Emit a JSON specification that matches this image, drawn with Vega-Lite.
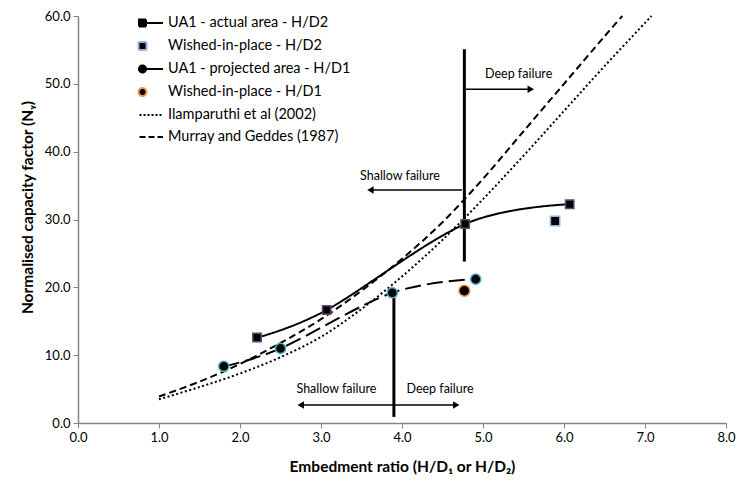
{
  "$schema": "https://vega.github.io/schema/vega-lite/v6.json",
  "width": 648,
  "height": 407,
  "autosize": "none",
  "padding": {"left": 78, "top": 16, "right": 14, "bottom": 62},
  "background": "white",
  "config": {
    "view": {"stroke": null},
    "font": "Lato",
    "axis": {
      "domainColor": "#868686", "domainWidth": 1.5, "tickColor": "#868686", "tickWidth": 1, "tickSize": 5,
      "labelFont": "Lato", "labelFontSize": 13, "labelColor": "#000",
      "titleFont": "Lato", "titleFontSize": 15.5, "titleFontWeight": "bold", "titleColor": "#000",
      "grid": false, "labelFlush": false, "labelOverlap": false
    }
  },
  "datasets": {
    "series": [
      {"series": "UA1 - actual area - H/D2", "x": 2.21, "y": 12.6},
      {"series": "UA1 - actual area - H/D2", "x": 3.07, "y": 16.66},
      {"series": "UA1 - actual area - H/D2", "x": 4.78, "y": 29.34},
      {"series": "UA1 - actual area - H/D2", "x": 6.07, "y": 32.24},
      {"series": "Wished-in-place - H/D2", "x": 5.89, "y": 29.78},
      {"series": "UA1 - projected area - H/D1", "x": 1.8, "y": 8.36},
      {"series": "UA1 - projected area - H/D1", "x": 2.5, "y": 11.0},
      {"series": "UA1 - projected area - H/D1", "x": 3.88, "y": 19.2},
      {"series": "UA1 - projected area - H/D1", "x": 4.91, "y": 21.2},
      {"series": "Wished-in-place - H/D1", "x": 4.77, "y": 19.5},
      {"series": "Ilamparuthi et al (2002)", "x": 1.0, "y": 3.5},
      {"series": "Ilamparuthi et al (2002)", "x": 1.5, "y": 5.3},
      {"series": "Ilamparuthi et al (2002)", "x": 2.0, "y": 7.3},
      {"series": "Ilamparuthi et al (2002)", "x": 2.5, "y": 9.7},
      {"series": "Ilamparuthi et al (2002)", "x": 3.0, "y": 12.7},
      {"series": "Ilamparuthi et al (2002)", "x": 3.5, "y": 16.8},
      {"series": "Ilamparuthi et al (2002)", "x": 4.0, "y": 21.6},
      {"series": "Ilamparuthi et al (2002)", "x": 4.5, "y": 27.0},
      {"series": "Ilamparuthi et al (2002)", "x": 5.0, "y": 33.0},
      {"series": "Ilamparuthi et al (2002)", "x": 5.5, "y": 39.4},
      {"series": "Ilamparuthi et al (2002)", "x": 6.0, "y": 46.0},
      {"series": "Ilamparuthi et al (2002)", "x": 6.5, "y": 52.6},
      {"series": "Ilamparuthi et al (2002)", "x": 7.08, "y": 60.0},
      {"series": "Murray and Geddes (1987)", "x": 1.0, "y": 3.9},
      {"series": "Murray and Geddes (1987)", "x": 1.5, "y": 6.1},
      {"series": "Murray and Geddes (1987)", "x": 2.0, "y": 8.7},
      {"series": "Murray and Geddes (1987)", "x": 2.5, "y": 11.8},
      {"series": "Murray and Geddes (1987)", "x": 3.0, "y": 15.3},
      {"series": "Murray and Geddes (1987)", "x": 3.5, "y": 19.5},
      {"series": "Murray and Geddes (1987)", "x": 4.0, "y": 24.2},
      {"series": "Murray and Geddes (1987)", "x": 4.5, "y": 29.6},
      {"series": "Murray and Geddes (1987)", "x": 5.0, "y": 36.0},
      {"series": "Murray and Geddes (1987)", "x": 5.5, "y": 43.0},
      {"series": "Murray and Geddes (1987)", "x": 6.0, "y": 50.0},
      {"series": "Murray and Geddes (1987)", "x": 6.5, "y": 57.0},
      {"series": "Murray and Geddes (1987)", "x": 6.72, "y": 60.0}
    ],
    "vlines": [
      {"x": 4.77, "y": 55.1, "y2": 23.8},
      {"x": 3.9, "y": 19.2, "y2": 0.9}
    ],
    "arrows": [
      {"x": 4.79, "x2": 5.6, "y": 49.2},
      {"x": 4.74, "x2": 3.6, "y": 34.35},
      {"x": 2.74, "x2": 4.68, "y": 2.65}
    ],
    "heads": [
      {"x": 5.59, "y": 49.2, "dir": "right"},
      {"x": 3.61, "y": 34.35, "dir": "left"},
      {"x": 2.75, "y": 2.65, "dir": "left"},
      {"x": 4.67, "y": 2.65, "dir": "right"}
    ],
    "labels": [
      {"x": 5.44, "y": 51.45, "text": "Deep failure"},
      {"x": 3.975, "y": 36.4, "text": "Shallow failure"},
      {"x": 3.19, "y": 4.97, "text": "Shallow failure"},
      {"x": 4.47, "y": 4.97, "text": "Deep failure"}
    ]
  },
  "encoding": {
    "x": {
      "field": "x", "type": "quantitative",
      "scale": {"domain": [0, 8], "nice": false, "zero": false},
      "axis": {"values": [0, 1, 2, 3, 4, 5, 6, 7, 8], "format": ".1f", "labelPadding": 3, "titlePadding": 15, "title": "Embedment ratio (H/D₁ or H/D₂)"}
    },
    "y": {
      "field": "y", "type": "quantitative",
      "scale": {"domain": [0, 60], "nice": false, "zero": false},
      "axis": {"values": [0, 10, 20, 30, 40, 50, 60], "format": ".1f", "labelPadding": 3, "titlePadding": 9, "titleY": 191, "title": "Normalised capacity factor (Nᵧ)"}
    }
  },
  "resolve": {"scale": {"shape": "independent", "size": "independent", "stroke": "independent", "strokeDash": "independent"}},
  "layer": [
    {
      "data": {"name": "vlines"},
      "mark": {"type": "rule", "strokeWidth": 3, "color": "black"},
      "encoding": {"y2": {"field": "y2"}}
    },
    {
      "data": {"name": "arrows"},
      "mark": {"type": "rule", "strokeWidth": 1.3, "color": "black"},
      "encoding": {"x2": {"field": "x2"}}
    },
    {
      "data": {"name": "heads"},
      "mark": {"type": "point", "filled": true, "color": "black", "size": 55, "opacity": 1},
      "encoding": {
        "shape": {"field": "dir", "type": "nominal", "scale": {"domain": ["left", "right"], "range": ["triangle-left", "triangle-right"]}, "legend": null}
      }
    },
    {
      "data": {"name": "labels"},
      "mark": {"type": "text", "font": "Lato", "fontSize": 12.5, "color": "black", "align": "center", "baseline": "middle"},
      "encoding": {"text": {"field": "text"}}
    },
    {
      "data": {"name": "series"},
      "transform": [{"filter": {"field": "series", "oneOf": ["UA1 - actual area - H/D2", "UA1 - projected area - H/D1", "Ilamparuthi et al (2002)", "Murray and Geddes (1987)"]}}],
      "mark": {"type": "line", "color": "black", "strokeWidth": 2, "interpolate": "cardinal"},
      "encoding": {
        "strokeDash": {
          "field": "series", "type": "nominal",
          "scale": {
            "domain": ["UA1 - actual area - H/D2", "UA1 - projected area - H/D1", "Ilamparuthi et al (2002)", "Murray and Geddes (1987)"],
            "range": [[1, 0], [16, 6], [2, 2.5], [7, 4]]
          },
          "legend": null
        }
      }
    },
    {
      "data": {"name": "series"},
      "transform": [{"filter": {"field": "series", "oneOf": ["UA1 - actual area - H/D2", "Wished-in-place - H/D2", "UA1 - projected area - H/D1", "Wished-in-place - H/D1"]}}],
      "mark": {"type": "point", "filled": true, "fill": "black", "strokeWidth": 1.5, "opacity": 1},
      "encoding": {
        "shape": {"field": "series", "type": "nominal", "scale": {"domain": ["UA1 - actual area - H/D2", "Wished-in-place - H/D2", "UA1 - projected area - H/D1", "Wished-in-place - H/D1"], "range": ["square", "square", "circle", "circle"]}, "legend": null},
        "stroke": {"field": "series", "type": "nominal", "scale": {"domain": ["UA1 - actual area - H/D2", "Wished-in-place - H/D2", "UA1 - projected area - H/D1", "Wished-in-place - H/D1"], "range": ["#604a7b", "#95b3d7", "#4bacc6", "#f79646"]}, "legend": null},
        "size": {"field": "series", "type": "nominal", "scale": {"domain": ["UA1 - actual area - H/D2", "Wished-in-place - H/D2", "UA1 - projected area - H/D1", "Wished-in-place - H/D1"], "range": [70, 120, 40, 90]}, "legend": null}
      }
    },
    {
      "data": {"name": "series"},
      "transform": [{"filter": {"field": "series", "equal": "legend only"}}],
      "mark": {"type": "point", "filled": true, "fill": "black", "size": 400, "strokeWidth": 2, "opacity": 1},
      "encoding": {
        "shape": {
          "field": "series", "type": "nominal",
          "scale": {
            "domain": ["UA1 - actual area - H/D2", "Wished-in-place - H/D2", "UA1 - projected area - H/D1", "Wished-in-place - H/D1", "Ilamparuthi et al (2002)", "Murray and Geddes (1987)"],
            "range": ["M-1.05,0H1M-1.4,-0.35H-0.7V0.35H-1.4Z", "M-1.45,-0.4H-0.65V0.4H-1.45Z", "M-1.05,0H1M-1.4,0A0.35,0.35 0 1,1 -0.7,0A0.35,0.35 0 1,1 -1.4,0Z", "M-1.45,0A0.4,0.4 0 1,1 -0.65,0A0.4,0.4 0 1,1 -1.45,0Z", "M-1.35,0H1", "M-1.35,0H1"]
          },
          "legend": {
            "orient": "none", "legendX": 64, "legendY": -4, "title": null, "padding": 0,
            "symbolSize": 400, "symbolStrokeWidth": 2, "symbolOpacity": 1, "symbolFillColor": "black", "rowPadding": 4,
            "labelFont": "Lato", "labelFontSize": 14.5, "labelColor": "black", "labelOffset": 4, "labelLimit": 0
          }
        },
        "stroke": {
          "field": "series", "type": "nominal",
          "scale": {
            "domain": ["UA1 - actual area - H/D2", "Wished-in-place - H/D2", "UA1 - projected area - H/D1", "Wished-in-place - H/D1", "Ilamparuthi et al (2002)", "Murray and Geddes (1987)"],
            "range": ["black", "#95b3d7", "black", "#f79646", "black", "black"]
          },
          "legend": {
            "orient": "none", "legendX": 64, "legendY": -4, "title": null, "padding": 0,
            "symbolSize": 400, "symbolStrokeWidth": 2, "symbolOpacity": 1, "symbolFillColor": "black", "rowPadding": 4,
            "labelFont": "Lato", "labelFontSize": 14.5, "labelColor": "black", "labelOffset": 4, "labelLimit": 0
          }
        },
        "strokeDash": {
          "field": "series", "type": "nominal",
          "scale": {
            "domain": ["UA1 - actual area - H/D2", "Wished-in-place - H/D2", "UA1 - projected area - H/D1", "Wished-in-place - H/D1", "Ilamparuthi et al (2002)", "Murray and Geddes (1987)"],
            "range": [[1, 0], [1, 0], [1, 0], [1, 0], [2, 2], [6, 3]]
          },
          "legend": {
            "orient": "none", "legendX": 64, "legendY": -4, "title": null, "padding": 0,
            "symbolSize": 400, "symbolStrokeWidth": 2, "symbolOpacity": 1, "symbolFillColor": "black", "rowPadding": 4,
            "labelFont": "Lato", "labelFontSize": 14.5, "labelColor": "black", "labelOffset": 4, "labelLimit": 0
          }
        }
      }
    }
  ]
}
